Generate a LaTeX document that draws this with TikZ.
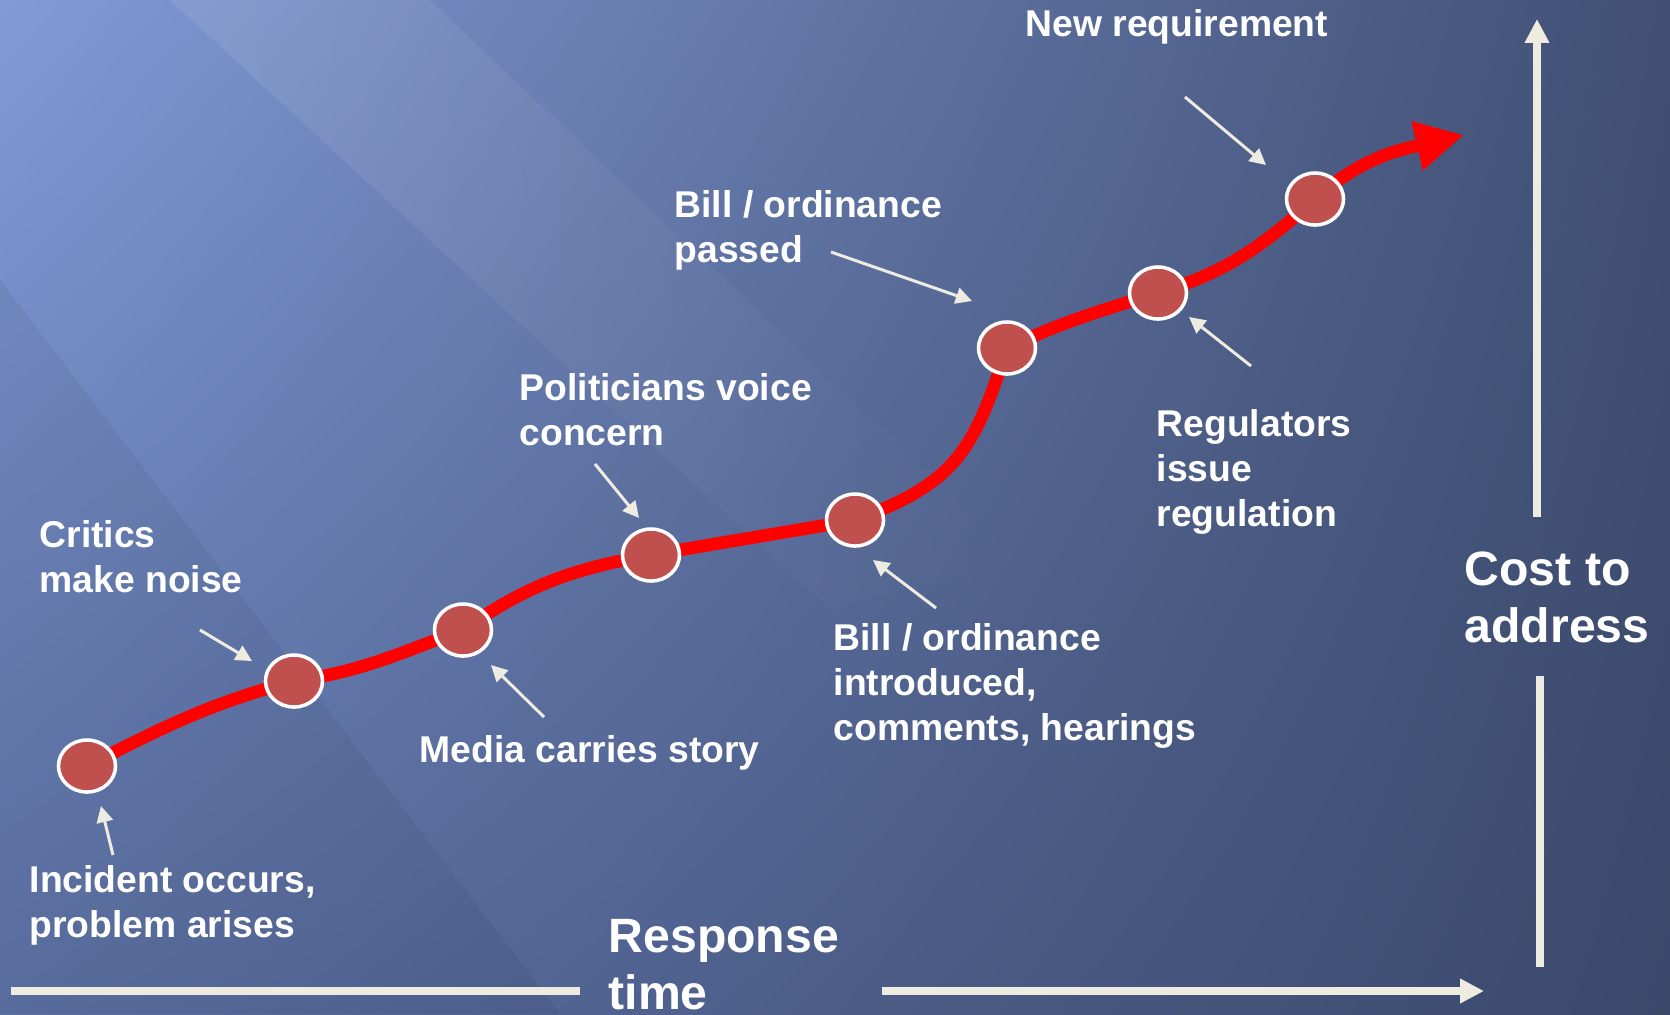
\documentclass[tikz,border=0pt]{standalone}
\usepackage{fontspec}
\setmainfont{Liberation Sans}
\usetikzlibrary{positioning, arrows.meta, shapes.geometric, fadings, shadings}
\pgfdeclarelayer{background}
\pgfsetlayers{background, main}
\tikzstyle{dot}=[ellipse, draw=white, line width=1pt, fill=dot_red, minimum width=0.57cm, minimum height=0.52cm, inner sep=0pt]
\tikzstyle{note}=[anchor=north west, inner sep=0pt, align=left, text=white, font=\fontsize{10.6}{12.8}\selectfont\bfseries]
\tikzstyle{axistitle}=[note, font=\fontsize{13.7}{16.2}\selectfont\bfseries]
\tikzstyle{pointer}=[draw=axis_cream, line width=0.85pt, -{Triangle[length=4.6pt, width=4.6pt]}]
\tikzstyle{axisbar}=[draw=axis_cream, line width=2.3pt]
\tikzstyle{trend}=[draw=red, line width=3.6pt, -{Triangle[length=13.7pt, width=13.4pt]}]
\definecolor{bg_light}{RGB}{130, 155, 215}
\definecolor{bg_mid}{RGB}{92, 113, 165}
\definecolor{bg_dark}{RGB}{64, 79, 115}
\definecolor{bg_darker}{RGB}{58, 72, 106}
\definecolor{dot_red}{RGB}{192, 80, 77}
\definecolor{axis_cream}{RGB}{238, 236, 225}

\begin{document}
\begin{tikzpicture}[x=0.01cm, y=-0.01cm]
    \useasboundingbox (0, 0) rectangle (1670, 1014);

    % milestones along the trend
    \node[dot] (p1) at (87, 766) {};
    \node[dot] (p2) at (294, 681) {};
    \node[dot] (p3) at (463, 630) {};
    \node[dot] (p4) at (651, 555) {};
    \node[dot] (p5) at (855, 520) {};
    \node[dot] (p6) at (1007, 348) {};
    \node[dot] (p7) at (1158, 293) {};
    \node[dot] (p8) at (1315, 199) {};
    \coordinate (trend_end) at (1464, 135);

    \begin{pgfonlayer}{background}
        \shade[upper left=bg_light, upper right=bg_dark, lower left=bg_mid, lower right=bg_darker] (0, 0) rectangle (1670, 1014);
        \fill[white, opacity=0.09, path fading=east] (170, 0) -- (430, 0) -- (1020, 560) -- (830, 610) -- cycle;
        \fill[black, opacity=0.05] (0, 280) -- (0, 1014) -- (560, 1014) -- cycle;
        \draw[trend] (p1.center) to[out=27, in=195] (p2.center)
            to[out=8, in=200] (p3.center)
            to[out=35, in=190] (p4.center)
            to[out=10, in=190] (p5.center)
            to[out=20, in=252, looseness=1.2] (p6.center)
            to[out=25, in=197] (p7.center)
            to[out=17, in=222] (p8.center)
            to[out=42, in=193] (trend_end);
    \end{pgfonlayer}

    % labels
    \node[note] (new_req) at (1025, 9) {New requirement};
    \node[note] (bill_passed) at (674, 190) {Bill / ordinance\\passed};
    \node[note] (politicians) at (519, 373) {Politicians voice\\concern};
    \node[note] (critics) at (39, 520) {Critics\\make noise};
    \node[note] (media) at (419, 735) {Media carries story};
    \node[note] (incident) at (29, 865) {Incident occurs,\\problem arises};
    \node[note] (bill_intro) at (833, 623) {Bill / ordinance\\introduced,\\comments, hearings};
    \node[note] (regulators) at (1156, 409) {Regulators\\issue\\regulation};
    \node[axistitle] (cost) at (1464, 551) {Cost to\\address};
    \node[axistitle] (response) at (608, 919) {Response\\time};

    % pointers
    \coordinate (new_req_a) at (1185, 97);   \coordinate (new_req_b) at (1266, 165);
    \coordinate (passed_a) at (831, 252);    \coordinate (passed_b) at (972, 301);
    \coordinate (concern_a) at (595, 464);   \coordinate (concern_b) at (639, 518);
    \coordinate (critics_a) at (200, 630);   \coordinate (critics_b) at (252, 661);
    \coordinate (media_a) at (544, 717);     \coordinate (media_b) at (491, 665);
    \coordinate (incident_a) at (113, 855);  \coordinate (incident_b) at (101, 806);
    \coordinate (intro_a) at (936, 608);     \coordinate (intro_b) at (873, 560);
    \coordinate (regul_a) at (1251, 366);    \coordinate (regul_b) at (1189, 317);
    \draw[pointer] (new_req_a) -- (new_req_b);
    \draw[pointer] (passed_a) -- (passed_b);
    \draw[pointer] (concern_a) -- (concern_b);
    \draw[pointer] (critics_a) -- (critics_b);
    \draw[pointer] (media_a) -- (media_b);
    \draw[pointer] (incident_a) -- (incident_b);
    \draw[pointer] (intro_a) -- (intro_b);
    \draw[pointer] (regul_a) -- (regul_b);

    % axes
    \coordinate (x_start) at (11, 991);   \coordinate (x_gap_l) at (580, 991);
    \coordinate (x_gap_r) at (882, 991);  \coordinate (x_end) at (1484, 991);
    \coordinate (y_start) at (1540, 967); \coordinate (y_gap_l) at (1540, 676);
    \coordinate (y_gap_u) at (1537, 517); \coordinate (y_end) at (1537, 19);
    \draw[axisbar] (x_start) -- (x_gap_l);
    \draw[axisbar, -{Triangle[length=6.8pt, width=6.6pt]}] (x_gap_r) -- (x_end);
    \draw[axisbar] (y_start) -- (y_gap_l);
    \draw[axisbar, -{Triangle[length=6.8pt, width=6.6pt]}] (y_gap_u) -- (y_end);
\end{tikzpicture}
\end{document}
